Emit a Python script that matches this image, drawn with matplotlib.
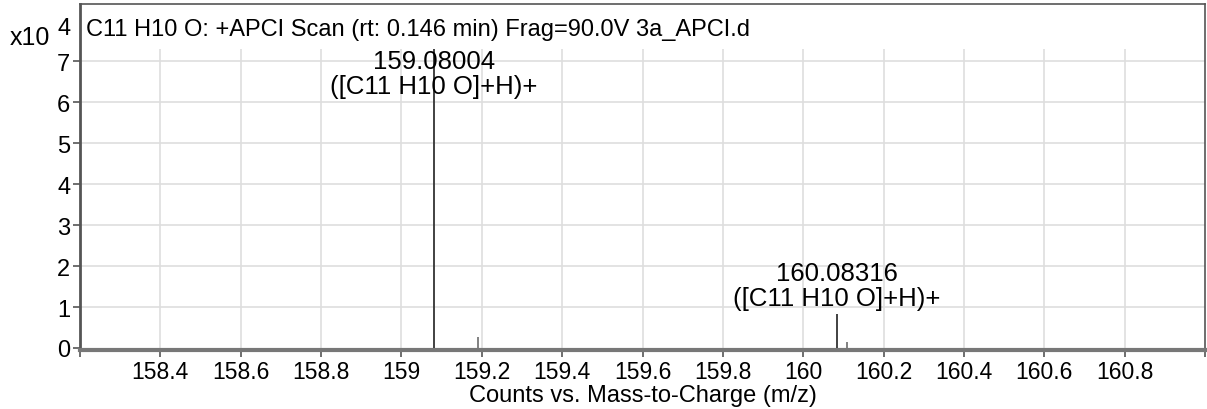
import numpy as np
import matplotlib
matplotlib.use('Agg')
import matplotlib.pyplot as plt

plt.rcParams['font.family'] = ['Liberation Sans', 'DejaVu Sans']

# spectrum sticks (m/z, counts x10^4)
mz = [159.08004, 159.19, 160.08316, 160.11]
counts = [7.29, 0.27, 0.83, 0.15]
labelled = [True, False, True, False]
ion_label = '([C11 H10 O]+H)+'

x_ticks = [158.4, 158.6, 158.8, 159.0, 159.2, 159.4, 159.6, 159.8, 160.0, 160.2, 160.4, 160.6, 160.8]
x_tick_labels = ['158.4', '158.6', '158.8', '159', '159.2', '159.4', '159.6', '159.8',
                 '160', '160.2', '160.4', '160.6', '160.8']
y_ticks = [0, 1, 2, 3, 4, 5, 6, 7]
title = 'C11 H10 O: +APCI Scan (rt: 0.146 min) Frag=90.0V 3a_APCI.d'
xlabel = 'Counts vs. Mass-to-Charge (m/z)'

fs = 17

fig = plt.figure(figsize=(12.07, 4.10), dpi=100)
ax = fig.add_axes([80 / 1207, 1 - 351 / 410, 1125 / 1207, 346 / 410])

xmin, xmax = 158.2, 161.0
ymax_data = max(counts)
ax.set_xlim(xmin, xmax)
ax.set_ylim(-0.05, 8.4)

# grid: horizontal full width, vertical only up to data top
for y in y_ticks[1:]:
    ax.axhline(y, color='#dedede', lw=1.2, zorder=0)
ax.vlines(x_ticks, 0, ymax_data, color='#dedede', lw=1.2, zorder=0)

# sticks
for m, c in zip(mz, counts):
    col = '#333333' if c > 0.5 else '#777777'
    ax.vlines(m, 0, c, color=col, lw=1.3, zorder=3)

# peak labels (kept inside the plot area)
for m, c, lab in zip(mz, counts, labelled):
    if not lab:
        continue
    ty = min(c + 0.1, 6.1)
    ax.text(m, ty, '%.5f\n%s' % (m, ion_label), ha='center', va='bottom',
            fontsize=18.5, linespacing=1.05, zorder=4)

ax.set_xticks([xmin] + x_ticks + [xmax])
ax.set_xticklabels([''] + x_tick_labels + [''], fontsize=16.5)
ax.set_yticks(y_ticks)
ax.set_yticklabels([str(v) for v in y_ticks], fontsize=fs)
ax.tick_params(axis='both', direction='out', length=5, width=1.2, color='#555555', pad=2)
ax.tick_params(axis='x', pad=2)

for s in ['top', 'right']:
    ax.spines[s].set_color('#555555')
    ax.spines[s].set_linewidth(1.2)
ax.spines['left'].set_color('#555555')
ax.spines['left'].set_linewidth(2)
ax.spines['bottom'].set_color('#777777')
ax.spines['bottom'].set_linewidth(3)

ax.text(6 / 1125, 1 - 25 / 346, title, transform=ax.transAxes, ha='left', va='center', fontsize=fs)
fig.text(10 / 1207, 1 - 38 / 410, 'x10', ha='left', va='center', fontsize=fs + 1)
fig.text(58 / 1207, 1 - 29 / 410, '4', ha='left', va='center', fontsize=fs)
fig.text(643 / 1207, 1 - 396 / 410, xlabel, ha='center', va='center', fontsize=fs)

fig.savefig('out.png', dpi=100)
